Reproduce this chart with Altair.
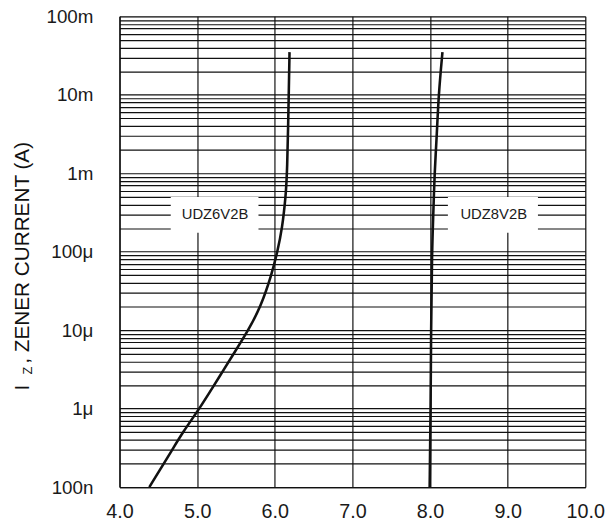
import altair as alt
import pandas as pd

# ---- data ----
I_6V2B = [1e-7, 2e-7, 3e-7, 5e-7, 1e-6, 2e-6, 3e-6, 5e-6, 1e-5, 2e-5, 5e-5,
          1e-4, 2e-4, 5e-4, 1e-3, 1e-2, 3.5e-2]
V_6V2B = [4.384, 4.571, 4.68, 4.814, 5.03, 5.22, 5.33, 5.47, 5.66, 5.82, 5.957,
          6.034, 6.096, 6.14, 6.16, 6.18, 6.19]

I_8V2B = [1e-7, 1e-6, 1e-5, 1e-4, 3e-4, 1e-3, 3e-3, 1e-2, 3.5e-2]
V_8V2B = [7.995, 8.008, 8.013, 8.025, 8.042, 8.058, 8.087, 8.11, 8.16]

series_names = ["UDZ6V2B", "UDZ8V2B"]
label_V = [5.23, 8.82]
label_I = [3.0e-4, 3.0e-4]
box_V1 = [4.66, 8.23]
box_V2 = [5.79, 9.39]
box_I1 = [1.75e-4, 1.75e-4]
box_I2 = [5.0e-4, 5.0e-4]

x_ticks = [4, 5, 6, 7, 8, 9, 10]
decade_exps = [-7, -6, -5, -4, -3, -2, -1]
decade_labels = ["100n", "1\u03bc", "10\u03bc", "100\u03bc", "1m", "10m", "100m"]

FONT = "Liberation Sans"

rows = []
for i, v in zip(I_6V2B, V_6V2B):
    rows.append({"I": i, "V": v, "s": series_names[0]})
for i, v in zip(I_8V2B, V_8V2B):
    rows.append({"I": i, "V": v, "s": series_names[1]})
curves = pd.DataFrame(rows)

boxes = pd.DataFrame({"x1": box_V1, "x2": box_V2, "y1": box_I1, "y2": box_I2})
labels = pd.DataFrame({"V": label_V, "I": label_I, "t": series_names})

# grid values: 1..9 x 10^k
y_vals = []
for e in decade_exps[:-1]:
    for k in range(1, 10):
        y_vals.append(float(f"{k}e{e}"))
y_vals.append(float(f"1e{decade_exps[-1]}"))

arr = "[" + ",".join("'" + s + "'" for s in decade_labels) + "]"
lg = "log(datum.value)/LN10"
label_expr = (f"abs({lg} - round({lg})) < 0.001 ? {arr}[round({lg}) + {-decade_exps[0]}] : ''")

x_scale = alt.Scale(domain=[4, 10], nice=False, zero=False)
y_scale = alt.Scale(type="log", domain=[1e-7, 1e-1], nice=False)

x_axis = alt.Axis(values=x_ticks, format=".1f", grid=True, gridColor="#111111",
                  gridOpacity=1, gridWidth=1.2, ticks=False, labelPadding=15,
                  labelFontSize=20, labelFont=FONT, labelColor="#1a1a1a",
                  domainColor="#111111", domainWidth=1.3, labelFlush=False,
                  labelOverlap=False, title=None)
y_axis = alt.Axis(values=y_vals, labelExpr=label_expr, grid=True, gridColor="#111111",
                  gridOpacity=1, gridWidth=1.2, ticks=False, labelPadding=27,
                  labelFontSize=19, labelFont=FONT, labelColor="#1a1a1a",
                  domainColor="#111111", domainWidth=1.3, labelOverlap=False,
                  labelBound=False, labelFlush=False, title=None)

base_lines = alt.Chart(curves).mark_line(color="#111111", strokeWidth=2.6,
                                         interpolate="basis").encode(
    x=alt.X("V:Q", scale=x_scale, axis=x_axis),
    y=alt.Y("I:Q", scale=y_scale, axis=y_axis),
    detail="s:N",
    order="I:Q",
)

rects = alt.Chart(boxes).mark_rect(color="white", opacity=1).encode(
    x=alt.X("x1:Q", scale=x_scale),
    x2="x2:Q",
    y=alt.Y("y1:Q", scale=y_scale),
    y2="y2:Q",
)

texts = alt.Chart(labels).mark_text(font=FONT, fontSize=15, color="#1a1a1a",
                                    align="center", baseline="middle").encode(
    x=alt.X("V:Q", scale=x_scale),
    y=alt.Y("I:Q", scale=y_scale),
    text="t:N",
)

one = pd.DataFrame({"a": [0]})
title_main = alt.Chart(one).mark_text(font=FONT, fontSize=21, color="#111111",
                                      angle=270, align="left", baseline="alphabetic").encode(
    x=alt.value(-91.5), y=alt.value(379), text=alt.value("I"))
title_sub = alt.Chart(one).mark_text(font=FONT, fontSize=13, color="#111111",
                                     angle=270, align="left", baseline="alphabetic").encode(
    x=alt.value(-88.5), y=alt.value(363), text=alt.value("Z"))
title_rest = alt.Chart(one).mark_text(font=FONT, fontSize=21, color="#111111",
                                      angle=270, align="left", baseline="alphabetic").encode(
    x=alt.value(-91.5), y=alt.value(352), text=alt.value(", ZENER CURRENT (A)"))

chart = alt.layer(base_lines, rects, texts, title_main, title_sub, title_rest).properties(
    width=472, height=477,
    autosize=alt.AutoSizeParams(type="none"),
    padding={"left": 113, "top": 5, "right": 23, "bottom": 39},
).configure_view(stroke="#111111", strokeWidth=1.3).configure(background="white")

chart.save("out.html", embed_options={"renderer": "svg", "actions": False})
